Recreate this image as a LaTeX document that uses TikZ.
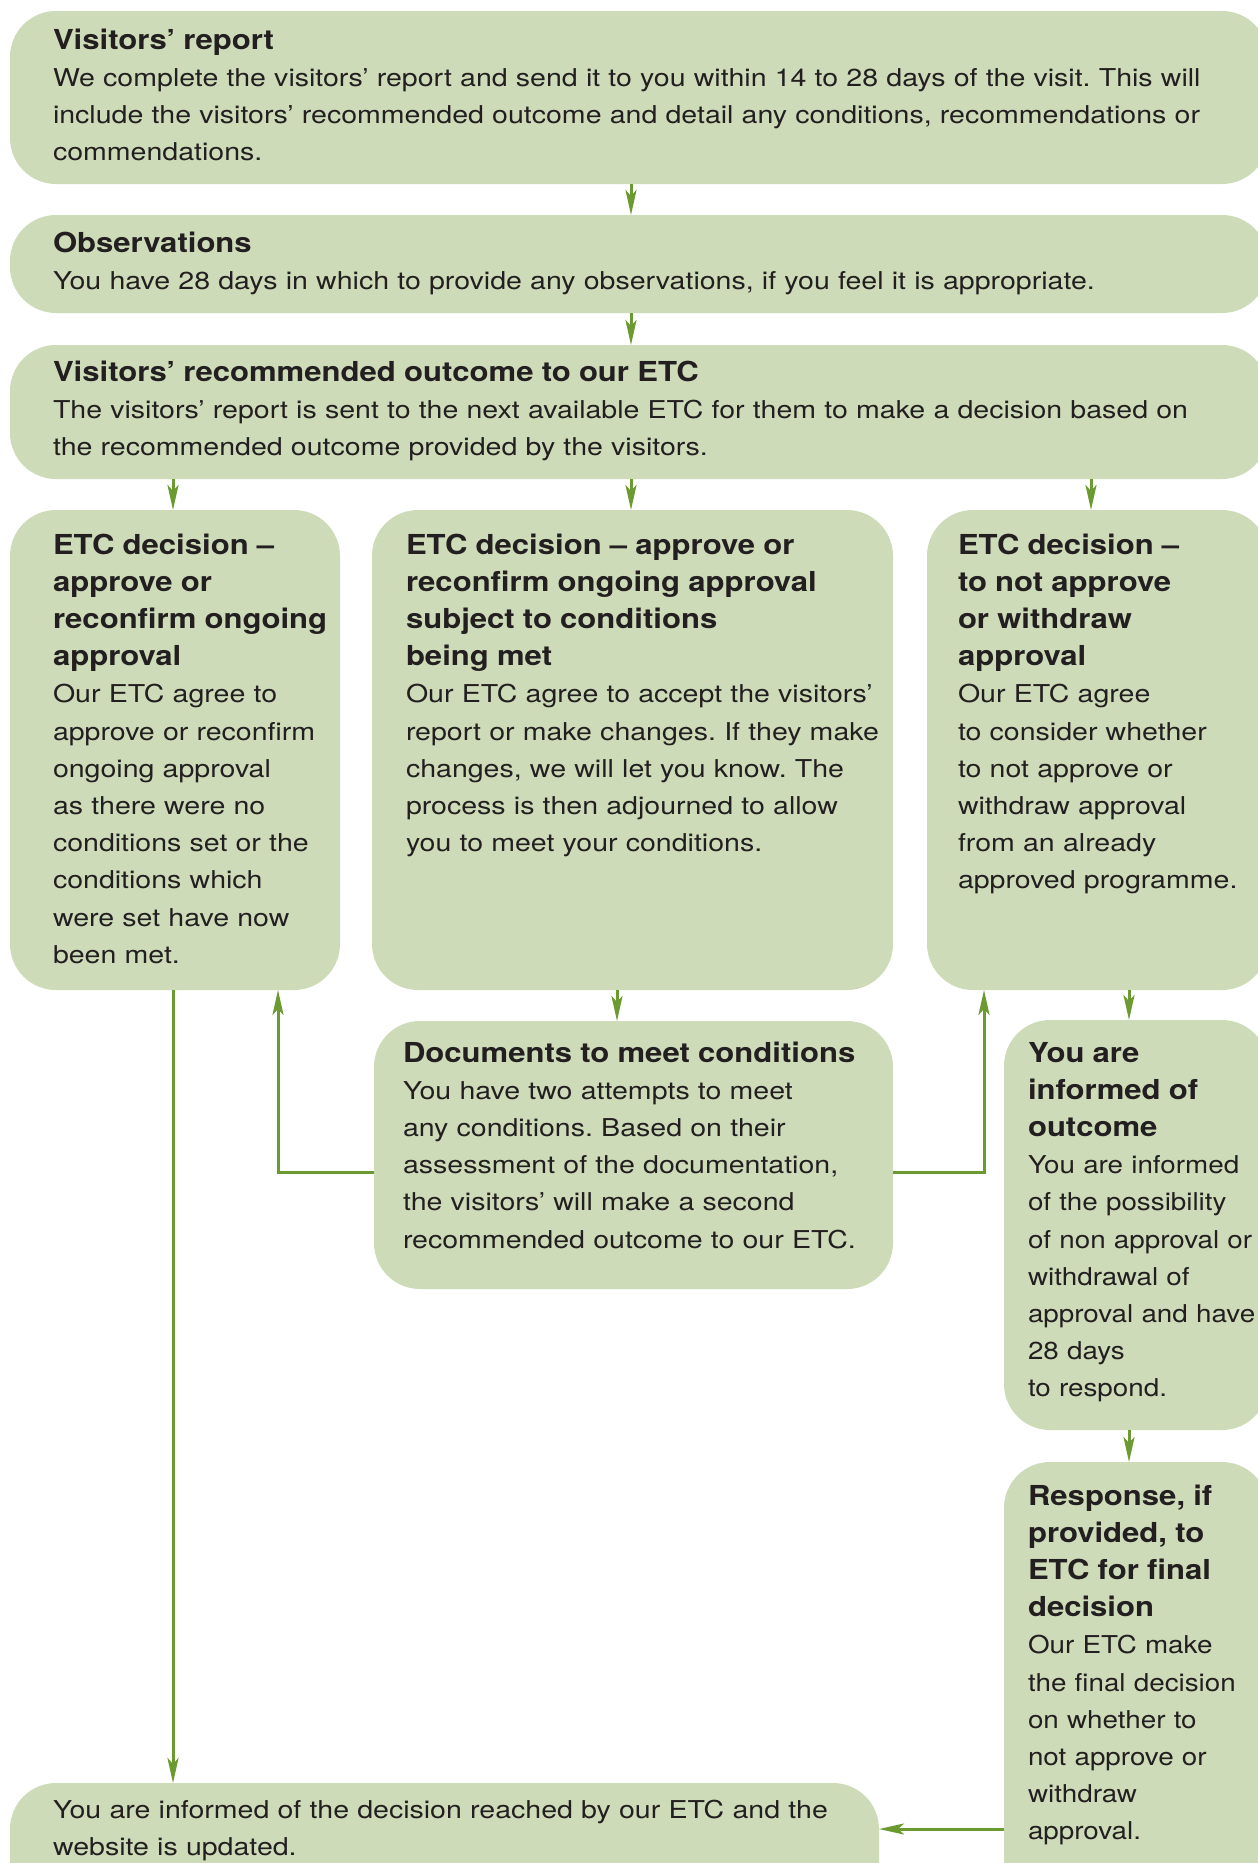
\documentclass[tikz,border=0pt]{standalone}
\usepackage{fontspec}
\setmainfont{TeX Gyre Heros}
\newfontfamily\bodyfnt{TeX Gyre Heros}[FakeStretch=1.16]
\newfontfamily\bodyfntn{TeX Gyre Heros}[FakeStretch=1.13]
\newfontfamily\headfnt{TeX Gyre Heros}[FakeStretch=1.13]
\newcommand\hdfont{\fontsize{27.5}{37.2}\headfnt\bfseries}
\newcommand\bdfont{\fontsize{24.6}{37.2}\bodyfnt\mdseries}
\newcommand\bdfontn{\fontsize{24.6}{37.2}\bodyfntn\mdseries}
\usetikzlibrary{arrows.meta}
\definecolor{boxfill}{HTML}{CDDBB8}
\definecolor{arrowgreen}{HTML}{6A9A30}
\definecolor{txtcol}{HTML}{231F20}
\begin{document}
\frenchspacing
\begin{tikzpicture}[x=1pt,y=-1pt,
  box/.style={fill=boxfill, draw=none, rounded corners=46pt, anchor=north west, inner sep=0pt, outer sep=0pt},
  txtnode/.style={anchor=north west, inner sep=0pt, outer sep=0pt, align=left, text width=1250pt, text=txtcol, font=\bdfont},
  arr/.style={draw=arrowgreen, line width=3pt, -{Stealth[length=25pt,width=11pt,inset=6pt]}}
]
\useasboundingbox (0,0) rectangle (1258,1863);
\clip (0,0) rectangle (1258,1863);
\fill[white] (0,0) rectangle (1258,1863);

% boxes
\node[box, minimum width=1258pt, minimum height=173pt] (b1) at (10,11) {};
\node[box, minimum width=1258pt, minimum height=98pt] (b2) at (10,215) {};
\node[box, minimum width=1258pt, minimum height=134pt] (b3) at (10,345) {};
\node[box, minimum width=330pt, minimum height=480pt] (bl) at (10,510) {};
\node[box, minimum width=521pt, minimum height=480pt] (bm) at (372,510) {};
\node[box, minimum width=341pt, minimum height=480pt] (br) at (927,510) {};
\node[box, minimum width=519pt, minimum height=268pt] (bd) at (374,1021) {};
\node[box, minimum width=264pt, minimum height=410pt] (bo) at (1004,1020) {};
\node[box, minimum width=264pt, minimum height=460pt] (bresp) at (1004,1462) {};
\node[box, minimum width=869pt, minimum height=140pt] (bf) at (10,1783) {};

% texts
\node[txtnode] (t1) at (53,23) {\strut\hdfont Visitors’ report\\
\bdfont We complete the visitors’ report and send it to you within 14 to 28 days of the visit. This will\\
include the visitors’ recommended outcome and detail any conditions, recommendations or\\
commendations.};
\node[txtnode] (t2) at (53,226) {\strut\hdfont Observations\\
\bdfont You have 28 days in which to provide any observations, if you feel it is appropriate.};
\node[txtnode] (t3) at (53,355) {\strut\hdfont Visitors’ recommended outcome to our ETC\\
\bdfont The visitors’ report is sent to the next available ETC for them to make a decision based on\\
the recommended outcome provided by the visitors.};
\node[txtnode] (tl) at (53,528) {\strut\hdfont ETC decision –\\ approve or\\ reconfirm ongoing\\ approval\\
\bdfont Our ETC agree to\\ approve or reconfirm\\ ongoing approval\\ as there were no\\ conditions set or the\\ conditions which\\ were set have now\\ been met.};
\node[txtnode] (tm) at (406,528) {\strut\hdfont ETC decision – approve or\\ reconfirm ongoing approval\\ subject to conditions\\ being met\\
\bdfont Our ETC agree to accept the visitors’\\ report or make changes. If they make\\ changes, we will let you know. The\\ process is then adjourned to allow\\ you to meet your conditions.};
\node[txtnode] (tr) at (958,528) {\strut\hdfont ETC decision –\\ to not approve\\ or withdraw\\ approval\\
\bdfont Our ETC agree\\ to consider whether\\ to not approve or\\ withdraw approval\\ from an already\\ approved programme.};
\node[txtnode] (td) at (403,1036) {\strut\hdfont Documents to meet conditions\\
\bdfont You have two attempts to meet\\ any conditions. Based on their\\ assessment of the documentation,\\ the visitors’ will make a second\\ recommended outcome to our ETC.};
\node[txtnode] (to) at (1028,1036) {\strut\hdfont You are\\ informed of\\ outcome\\
\bdfontn You are informed\\ of the possibility\\ of non approval or\\ withdrawal of\\ approval and have\\ 28 days\\ to respond.};
\node[txtnode] (tresp) at (1028,1479) {\strut\hdfont Response, if\\ provided, to\\ ETC for final\\ decision\\
\bdfontn Our ETC make\\ the final decision\\ on whether to\\ not approve or\\ withdraw\\ approval.};
\node[txtnode] (tf) at (53,1792) {\strut You are informed of the decision reached by our ETC and the\\ website is updated.};

% connector guide coordinates
\coordinate (xa) at (631,0);
\coordinate (xl) at (173,0);
\coordinate (xr) at (1091,0);
\coordinate (xmd) at (617,0);
\coordinate (xo) at (1129,0);
\coordinate (xfl) at (278,0);
\coordinate (xfr) at (984,0);
\coordinate (yd) at (0,1172);
\coordinate (yf) at (0,1829);

% connectors
\draw[arr] (b1.south -| xa) -- (b2.north -| xa);
\draw[arr] (b2.south -| xa) -- (b3.north -| xa);
\draw[arr] (b3.south -| xl) -- (bl.north -| xl);
\draw[arr] (b3.south -| xa) -- (bm.north -| xa);
\draw[arr] (b3.south -| xr) -- (br.north -| xr);
\draw[arr] (bm.south -| xmd) -- (bd.north -| xmd);
\draw[arr] (br.south -| xo) -- (bo.north -| xo);
\draw[arr] (bo.south -| xo) -- (bresp.north -| xo);
\draw[arr] (bd.west |- yd) -| (bl.south -| xfl);
\draw[arr] (bd.east |- yd) -| (br.south -| xfr);
\draw[arr] (bl.south -| xl) -- (bf.north -| xl);
\draw[arr] (bresp.west |- yf) -- (bf.east |- yf);
\end{tikzpicture}
\end{document}
